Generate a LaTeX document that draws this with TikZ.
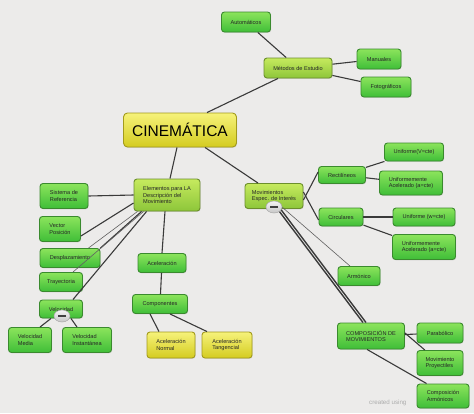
\documentclass[tikz,border=0pt]{standalone}
\usepackage{fontspec}
\setmainfont{Liberation Sans}
\usetikzlibrary{shapes.geometric,shadows}
\definecolor{bgc}{HTML}{ECEBEA}
\definecolor{gtop}{HTML}{8CE45C}
\definecolor{gbot}{HTML}{3FBE38}
\definecolor{gbrd}{HTML}{3A8A2E}
\definecolor{ltop}{HTML}{C6EA5E}
\definecolor{lbot}{HTML}{8DC63A}
\definecolor{lbrd}{HTML}{6C8F2C}
\definecolor{ytop}{HTML}{F6F27A}
\definecolor{ybot}{HTML}{D4CC20}
\definecolor{ybrd}{HTML}{A39B1C}
\definecolor{edgec}{HTML}{3A3A3A}
\tikzset{
  basebox/.style={rectangle, rounded corners=3pt, draw, line width=0.9pt, align=left,
    font=\fontsize{5.6}{6.6}\selectfont, text=black!85, inner sep=2pt,
    drop shadow={shadow xshift=0.6pt, shadow yshift=-0.8pt, opacity=0.25}},
  gbox/.style={basebox, top color=gtop, bottom color=gbot, draw=gbrd},
  lbox/.style={basebox, top color=ltop, bottom color=lbot, draw=lbrd},
  ybox/.style={basebox, top color=ytop, bottom color=ybot, draw=ybrd},
  edge/.style={draw=edgec, line width=1.1pt},
  thinedge/.style={draw=edgec!80, line width=0.6pt},
  minusbtn/.style={ellipse, draw=gray!70, line width=0.5pt, top color=gray!8, bottom color=gray!45,
    minimum width=16pt, minimum height=12pt, inner sep=0pt},
}
\begin{document}
\begin{tikzpicture}[x=1pt,y=-1pt]
\fill[bgc] (0,0) rectangle (474,413);
\useasboundingbox (0,0) rectangle (474,413);

% nodes
\node[gbox, minimum width=49, minimum height=20] (auto) at (246,22) {Automáticos};
\node[lbox, minimum width=68, minimum height=20] (meto) at (298,68) {Métodos de Estudio};
\node[gbox, minimum width=44, minimum height=20] (manu) at (379,59) {Manuales};
\node[gbox, minimum width=50, minimum height=20] (foto) at (386,87) {Fotográficos};
\node[ybox, minimum width=113, minimum height=34, rounded corners=4pt, align=center,
      font=\fontsize{15.5}{18}\selectfont, text=black] (cine) at (180,130) {CINEMÁTICA};

\node[lbox, minimum width=66, minimum height=32] (elem) at (167,195) {Elementos para LA\\Descripción del\\Movimiento};
\node[gbox, minimum width=48, minimum height=25] (sist) at (64,196) {Sistema de\\Referencia};
\node[gbox, minimum width=41, minimum height=25] (vect) at (60,229) {Vector\\Posición};
\node[gbox, minimum width=60, minimum height=19] (desp) at (70,258) {Desplazamiento};
\node[gbox, minimum width=43, minimum height=19] (tray) at (61,282) {Trayectoria};
\node[gbox, minimum width=43, minimum height=18] (velo) at (61,309) {Velocidad};
\node[gbox, minimum width=43, minimum height=25] (vmed) at (30,340) {Velocidad\\Media};
\node[gbox, minimum width=49, minimum height=25] (vins) at (87,340) {Velocidad\\Instantánea};
\node[gbox, minimum width=48, minimum height=19] (acel) at (162,263) {Aceleración};
\node[gbox, minimum width=55, minimum height=19] (comp) at (160,304) {Componentes};
\node[ybox, minimum width=48, minimum height=26] (anor) at (171,345) {Aceleración\\Normal};
\node[ybox, minimum width=50, minimum height=26] (atan) at (227,345) {Aceleración\\Tangencial};

\node[lbox, minimum width=58, minimum height=25] (movi) at (274,196) {Movimientos\\Espec. de Interés};
\node[gbox, minimum width=47, minimum height=17] (rect) at (342,175) {Rectilíneos};
\node[gbox, minimum width=59, minimum height=18] (unv) at (414,152) {Uniforme(V=cte)};
\node[gbox, minimum width=63, minimum height=24] (uac1) at (411,183) {Uniformemente\\Acelerado (a=cte)};
\node[gbox, minimum width=44, minimum height=18] (circ) at (341,217) {Circulares};
\node[gbox, minimum width=62, minimum height=18] (unw) at (424,217) {Uniforme (w=cte)};
\node[gbox, minimum width=63, minimum height=25] (uac2) at (424,247) {Uniformemente\\Acelerado (a=cte)};
\node[gbox, minimum width=42, minimum height=19] (armo) at (359,276) {Armónico};
\node[gbox, minimum width=67, minimum height=26] (cmov) at (371,336) {COMPOSICIÓN DE\\MOVIMIENTOS};
\node[gbox, minimum width=46, minimum height=20] (para) at (440,333) {Parabólico};
\node[gbox, minimum width=46, minimum height=25] (proy) at (440,363) {Movimiento\\Proyectiles};

\node[text=gray!65, font=\fontsize{6.2}{7}\selectfont, anchor=west, inner sep=0pt] (wm) at (369,403) {created using};
\node[gbox, minimum width=52, minimum height=24] (carm) at (443,396) {Composición\\Armónicos};

\coordinate (b1) at (62,316);
\coordinate (b2) at (274,207);

% edges
\draw[edge] (auto) -- (meto);
\draw[edge] (meto) -- (manu);
\draw[edge] (meto) -- (foto);
\draw[edge] ([xshift=-20]meto.south) -- ([xshift=27]cine.north);
\draw[edge] ([xshift=-3]cine.south) -- ([xshift=3]elem.north);
\draw[edge] ([xshift=25]cine.south) -- ([xshift=-16]movi.north);

\draw[edge] (elem.west) -- (sist.east);
\draw[edge] ([yshift=-8]elem.west) -- ([yshift=-7]vect.east);
\draw[thinedge] ([xshift=4]elem.south west) -- ([xshift=-12]desp.north east);
\draw[edge] ([xshift=8]elem.south west) -- (desp.north east);
\draw[thinedge] ([xshift=10]elem.south west) -- ([xshift=-10]tray.north east);
\draw[edge] ([xshift=13]elem.south west) -- ([xshift=-10]velo.north east);
\draw[edge] ([xshift=-2]elem.south) -- (acel.north);
\draw[edge] (acel) -- (comp);
\draw[edge] ([xshift=-10]comp.south) -- ([xshift=-12]anor.north);
\draw[edge] ([xshift=10]comp.south) -- ([xshift=-20]atan.north);
\draw[edge] ([xshift=-10]velo.south) -- ([xshift=10]vmed.north);
\draw[edge] ([xshift=10]velo.south) -- ([xshift=-10]vins.north);

\draw[edge] ([yshift=-4]movi.east) -- ([yshift=3]rect.west);
\draw[edge] ([yshift=4]movi.east) -- ([yshift=-3]circ.west);
\draw[edge] (rect) -- (unv);
\draw[edge] (rect) -- (uac1);
\draw[edge] (circ) -- (unw);
\draw[edge] (circ) -- (uac2);
\draw[thinedge] ([xshift=8]b2) -- ([xshift=-9]armo.north);
\draw[edge, line width=1.4pt] ([xshift=2]b2) -- ([xshift=-8]cmov.north);
\draw[edge, line width=1.4pt] ([xshift=5]b2) -- ([xshift=-5]cmov.north);
\draw[edge] (cmov) -- (para);
\draw[edge] ([yshift=3]cmov.east) -- (proy);
\draw[edge] ([xshift=30]cmov.south west) -- ([xshift=10]carm.north west);

% minus buttons
\node[minusbtn] (mb1) at (b1) {};
\draw[line width=1.5pt, black!75] ([xshift=-4]mb1.center) -- ([xshift=4]mb1.center);
\node[minusbtn] (mb2) at (b2) {};
\draw[line width=1.5pt, black!75] ([xshift=-4]mb2.center) -- ([xshift=4]mb2.center);
\end{tikzpicture}
\end{document}
